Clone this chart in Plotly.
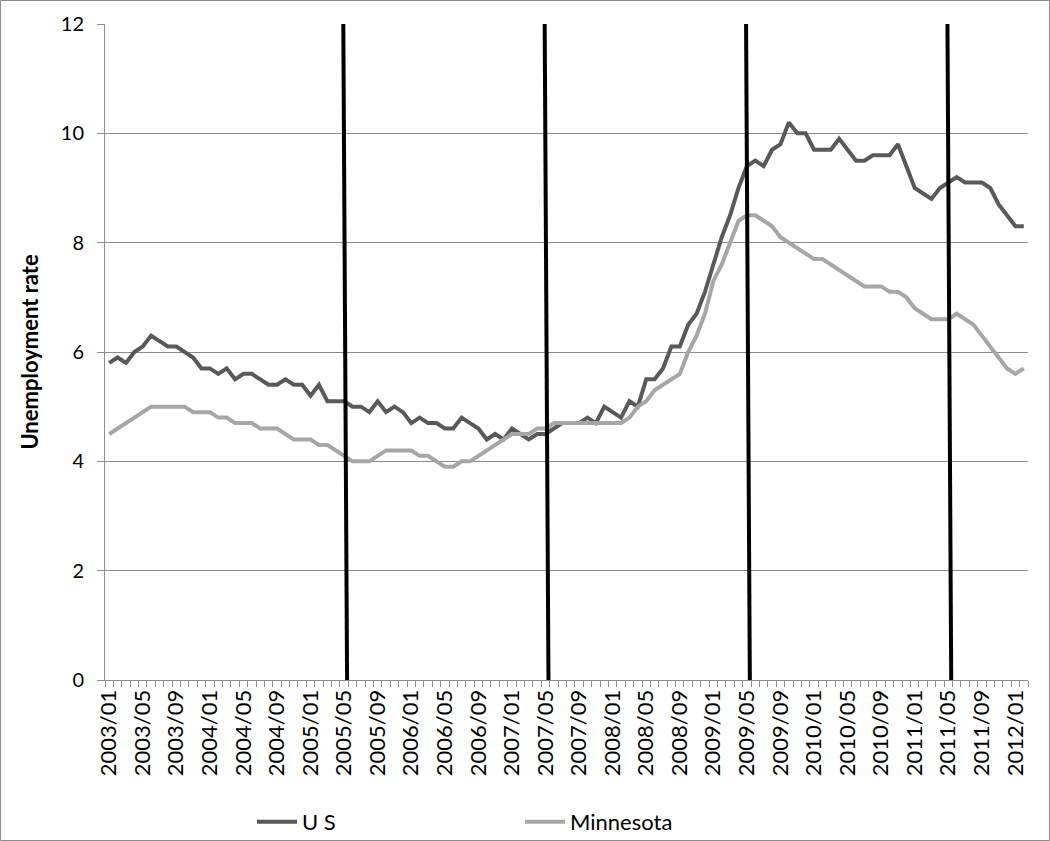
import plotly.graph_objects as go

# ---- data ----
years = list(range(2003, 2013))
months = [f"{y}/{m:02d}" for y in years for m in range(1, 13)][:110]  # 2003/01 .. 2012/02

us_rate = [
    5.8, 5.9, 5.8, 6.0, 6.1, 6.3, 6.2, 6.1, 6.1, 6.0, 5.9, 5.7,
    5.7, 5.6, 5.7, 5.5, 5.6, 5.6, 5.5, 5.4, 5.4, 5.5, 5.4, 5.4,
    5.2, 5.4, 5.1, 5.1, 5.1, 5.0, 5.0, 4.9, 5.1, 4.9, 5.0, 4.9,
    4.7, 4.8, 4.7, 4.7, 4.6, 4.6, 4.8, 4.7, 4.6, 4.4, 4.5, 4.4,
    4.6, 4.5, 4.4, 4.5, 4.5, 4.6, 4.7, 4.7, 4.7, 4.8, 4.7, 5.0,
    4.9, 4.8, 5.1, 5.0, 5.5, 5.5, 5.7, 6.1, 6.1, 6.5, 6.7, 7.1,
    7.6, 8.1, 8.5, 9.0, 9.4, 9.5, 9.4, 9.7, 9.8, 10.2, 10.0, 10.0,
    9.7, 9.7, 9.7, 9.9, 9.7, 9.5, 9.5, 9.6, 9.6, 9.6, 9.8, 9.4,
    9.0, 8.9, 8.8, 9.0, 9.1, 9.2, 9.1, 9.1, 9.1, 9.0, 8.7, 8.5,
    8.3, 8.3,
]

mn_rate = [
    4.5, 4.6, 4.7, 4.8, 4.9, 5.0, 5.0, 5.0, 5.0, 5.0, 4.9, 4.9,
    4.9, 4.8, 4.8, 4.7, 4.7, 4.7, 4.6, 4.6, 4.6, 4.5, 4.4, 4.4,
    4.4, 4.3, 4.3, 4.2, 4.1, 4.0, 4.0, 4.0, 4.1, 4.2, 4.2, 4.2,
    4.2, 4.1, 4.1, 4.0, 3.9, 3.9, 4.0, 4.0, 4.1, 4.2, 4.3, 4.4,
    4.5, 4.5, 4.5, 4.6, 4.6, 4.7, 4.7, 4.7, 4.7, 4.7, 4.7, 4.7,
    4.7, 4.7, 4.8, 5.0, 5.1, 5.3, 5.4, 5.5, 5.6, 6.0, 6.3, 6.7,
    7.3, 7.6, 8.0, 8.4, 8.5, 8.5, 8.4, 8.3, 8.1, 8.0, 7.9, 7.8,
    7.7, 7.7, 7.6, 7.5, 7.4, 7.3, 7.2, 7.2, 7.2, 7.1, 7.1, 7.0,
    6.8, 6.7, 6.6, 6.6, 6.6, 6.7, 6.6, 6.5, 6.3, 6.1, 5.9, 5.7,
    5.6, 5.7,
]

event_months = ["2005/05", "2007/05", "2009/05", "2011/05"]
tick_labels = [m if i % 4 == 0 else "" for i, m in enumerate(months)]
y_ticks = [0, 2, 4, 6, 8, 10, 12]

FONT = "Lato"
GRID = "#8c8c8c"

fig = go.Figure()
fig.add_trace(go.Scatter(x=months, y=us_rate, mode="lines", name="U S",
                         line=dict(color="#595959", width=4)))
fig.add_trace(go.Scatter(x=months, y=mn_rate, mode="lines", name="Minnesota",
                         line=dict(color="#a6a6a6", width=4)))

shapes = []
for m in event_months:
    idx = months.index(m)
    shapes.append(dict(type="line", xref="x", yref="y",
                       x0=idx - 0.1, y0=12, x1=idx + 0.35, y1=0,
                       line=dict(color="black", width=4)))

W, H = 1050, 841
L, R, T, B = 105, 22, 24, 161
pw, ph = W - L - R, H - T - B
shapes.append(dict(type="rect", xref="paper", yref="paper",
                   x0=-(L - 0.5) / pw, x1=(W - L - 0.5) / pw,
                   y0=-(B - 0.5) / ph, y1=(H - B - 0.5) / ph,
                   line=dict(color="#8c8c8c", width=1), layer="below"))

fig.update_layout(
    width=W, height=H,
    margin=dict(l=L, r=R, t=T, b=B, autoexpand=False),
    paper_bgcolor="white", plot_bgcolor="white",
    font=dict(family=FONT, color="black"),
    shapes=shapes,
    showlegend=True,
    hovermode=False,
    legend=dict(orientation="h", x=(252 - L) / pw, xanchor="left",
                y=(680 - 822) / ph, yanchor="middle",
                entrywidth=213, entrywidthmode="pixels",
                font=dict(size=22, family=FONT), itemwidth=40,
                bgcolor="rgba(0,0,0,0)"),
    xaxis=dict(type="category", categoryorder="array", categoryarray=months,
               range=[-0.5, len(months) - 0.5],
               tickmode="array", tickvals=months, ticktext=tick_labels,
               tickson="boundaries", ticks="outside", ticklen=6, tickcolor=GRID,
               tickangle=-90, tickfont=dict(size=22, family=FONT),
               showline=True, linecolor=GRID, linewidth=1,
               showgrid=False, zeroline=False),
    yaxis=dict(range=[0, 12], tickvals=y_ticks, ticks="outside", ticklen=7,
               tickcolor=GRID, tickfont=dict(size=20, family=FONT),
               ticklabelstandoff=9,
               showline=True, linecolor=GRID, linewidth=1,
               showgrid=True, gridcolor=GRID, gridwidth=1, zeroline=False,
               title=dict(text="<b>Unemployment rate</b>",
                          font=dict(size=22, family=FONT), standoff=16)),
)

fig.write_html("out.html",
               config={"displayModeBar": False},
               post_script="document.body.style.margin='0';document.body.style.overflow='hidden';")
